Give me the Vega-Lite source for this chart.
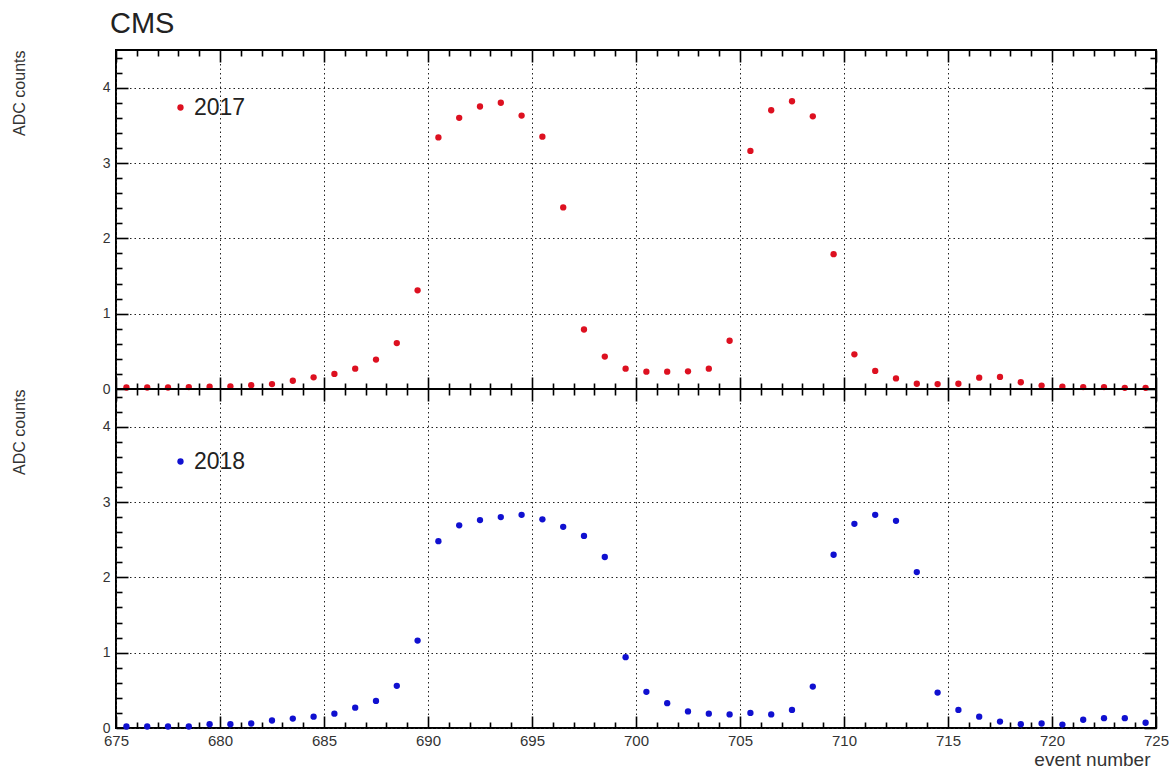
{
  "$schema": "https://vega.github.io/schema/vega-lite/v6.json",
  "background": "white",
  "padding": {"left": 10, "top": 9, "right": 5, "bottom": 5},
  "config": {
    "view": {"stroke": "black", "strokeWidth": 2},
    "font": "Liberation Sans",
    "axis": {"domain": false, "tickColor": "black", "tickWidth": 1.6, "labelFont": "Liberation Sans", "titleFont": "Liberation Sans", "labelColor": "#333", "titleColor": "#333", "titleFontWeight": "normal", "gridColor": "#222", "gridDash": [1.5, 3], "gridWidth": 1}
  },
  "datasets": {
    "adc": [
      {"year": "2017", "event": 675.5, "adc": 0.02}, {"year": "2017", "event": 676.5, "adc": 0.02}, {"year": "2017", "event": 677.5, "adc": 0.02}, {"year": "2017", "event": 678.5, "adc": 0.025}, {"year": "2017", "event": 679.5, "adc": 0.03},
      {"year": "2017", "event": 680.5, "adc": 0.035}, {"year": "2017", "event": 681.5, "adc": 0.05}, {"year": "2017", "event": 682.5, "adc": 0.065}, {"year": "2017", "event": 683.5, "adc": 0.11}, {"year": "2017", "event": 684.5, "adc": 0.155},
      {"year": "2017", "event": 685.5, "adc": 0.2}, {"year": "2017", "event": 686.5, "adc": 0.27}, {"year": "2017", "event": 687.5, "adc": 0.39}, {"year": "2017", "event": 688.5, "adc": 0.61}, {"year": "2017", "event": 689.5, "adc": 1.31},
      {"year": "2017", "event": 690.5, "adc": 3.34}, {"year": "2017", "event": 691.5, "adc": 3.6}, {"year": "2017", "event": 692.5, "adc": 3.75}, {"year": "2017", "event": 693.5, "adc": 3.8}, {"year": "2017", "event": 694.5, "adc": 3.63},
      {"year": "2017", "event": 695.5, "adc": 3.35}, {"year": "2017", "event": 696.5, "adc": 2.41}, {"year": "2017", "event": 697.5, "adc": 0.79}, {"year": "2017", "event": 698.5, "adc": 0.43}, {"year": "2017", "event": 699.5, "adc": 0.27},
      {"year": "2017", "event": 700.5, "adc": 0.23}, {"year": "2017", "event": 701.5, "adc": 0.23}, {"year": "2017", "event": 702.5, "adc": 0.235}, {"year": "2017", "event": 703.5, "adc": 0.27}, {"year": "2017", "event": 704.5, "adc": 0.64},
      {"year": "2017", "event": 705.5, "adc": 3.16}, {"year": "2017", "event": 706.5, "adc": 3.7}, {"year": "2017", "event": 707.5, "adc": 3.82}, {"year": "2017", "event": 708.5, "adc": 3.62}, {"year": "2017", "event": 709.5, "adc": 1.79},
      {"year": "2017", "event": 710.5, "adc": 0.46}, {"year": "2017", "event": 711.5, "adc": 0.24}, {"year": "2017", "event": 712.5, "adc": 0.14}, {"year": "2017", "event": 713.5, "adc": 0.07}, {"year": "2017", "event": 714.5, "adc": 0.065},
      {"year": "2017", "event": 715.5, "adc": 0.07}, {"year": "2017", "event": 716.5, "adc": 0.15}, {"year": "2017", "event": 717.5, "adc": 0.16}, {"year": "2017", "event": 718.5, "adc": 0.09}, {"year": "2017", "event": 719.5, "adc": 0.045},
      {"year": "2017", "event": 720.5, "adc": 0.03}, {"year": "2017", "event": 721.5, "adc": 0.025}, {"year": "2017", "event": 722.5, "adc": 0.025}, {"year": "2017", "event": 723.5, "adc": 0.015}, {"year": "2017", "event": 724.5, "adc": 0.015},
      {"year": "2018", "event": 675.5, "adc": 0.02}, {"year": "2018", "event": 676.5, "adc": 0.02}, {"year": "2018", "event": 677.5, "adc": 0.02}, {"year": "2018", "event": 678.5, "adc": 0.02}, {"year": "2018", "event": 679.5, "adc": 0.05},
      {"year": "2018", "event": 680.5, "adc": 0.05}, {"year": "2018", "event": 681.5, "adc": 0.06}, {"year": "2018", "event": 682.5, "adc": 0.1}, {"year": "2018", "event": 683.5, "adc": 0.125}, {"year": "2018", "event": 684.5, "adc": 0.15},
      {"year": "2018", "event": 685.5, "adc": 0.19}, {"year": "2018", "event": 686.5, "adc": 0.27}, {"year": "2018", "event": 687.5, "adc": 0.36}, {"year": "2018", "event": 688.5, "adc": 0.56}, {"year": "2018", "event": 689.5, "adc": 1.16},
      {"year": "2018", "event": 690.5, "adc": 2.48}, {"year": "2018", "event": 691.5, "adc": 2.69}, {"year": "2018", "event": 692.5, "adc": 2.76}, {"year": "2018", "event": 693.5, "adc": 2.8}, {"year": "2018", "event": 694.5, "adc": 2.83},
      {"year": "2018", "event": 695.5, "adc": 2.77}, {"year": "2018", "event": 696.5, "adc": 2.67}, {"year": "2018", "event": 697.5, "adc": 2.55}, {"year": "2018", "event": 698.5, "adc": 2.27}, {"year": "2018", "event": 699.5, "adc": 0.94},
      {"year": "2018", "event": 700.5, "adc": 0.48}, {"year": "2018", "event": 701.5, "adc": 0.33}, {"year": "2018", "event": 702.5, "adc": 0.22}, {"year": "2018", "event": 703.5, "adc": 0.19}, {"year": "2018", "event": 704.5, "adc": 0.18},
      {"year": "2018", "event": 705.5, "adc": 0.2}, {"year": "2018", "event": 706.5, "adc": 0.18}, {"year": "2018", "event": 707.5, "adc": 0.24}, {"year": "2018", "event": 708.5, "adc": 0.55}, {"year": "2018", "event": 709.5, "adc": 2.3},
      {"year": "2018", "event": 710.5, "adc": 2.71}, {"year": "2018", "event": 711.5, "adc": 2.83}, {"year": "2018", "event": 712.5, "adc": 2.75}, {"year": "2018", "event": 713.5, "adc": 2.07}, {"year": "2018", "event": 714.5, "adc": 0.47},
      {"year": "2018", "event": 715.5, "adc": 0.24}, {"year": "2018", "event": 716.5, "adc": 0.15}, {"year": "2018", "event": 717.5, "adc": 0.085}, {"year": "2018", "event": 718.5, "adc": 0.05}, {"year": "2018", "event": 719.5, "adc": 0.06},
      {"year": "2018", "event": 720.5, "adc": 0.045}, {"year": "2018", "event": 721.5, "adc": 0.11}, {"year": "2018", "event": 722.5, "adc": 0.13}, {"year": "2018", "event": 723.5, "adc": 0.13}, {"year": "2018", "event": 724.5, "adc": 0.07}
    ]
  },
  "data": {"name": "adc"},
  "spacing": 0,
  "bounds": "flush",
  "resolve": {"scale": {"color": "independent"}},
  "vconcat": [
    {
      "width": 1040,
      "height": 339,
      "title": {"text": "CMS", "anchor": "start", "frame": "group", "fontSize": 29, "fontWeight": "normal", "font": "Liberation Sans", "color": "#222", "dx": -6, "offset": 10},
      "transform": [{"filter": "datum.year == '2017'"}],
      "layer": [
        {
          "mark": {"type": "point", "filled": true, "size": 40, "opacity": 1},
          "encoding": {
            "x": {"field": "event", "type": "quantitative", "scale": {"domain": [675, 725], "nice": false, "zero": false},
              "axis": {"orient": "bottom", "values": [675, 680, 685, 690, 695, 700, 705, 710, 715, 720, 725], "labels": false, "title": null, "grid": true, "tickSize": -12}},
            "y": {"field": "adc", "type": "quantitative", "scale": {"domain": [0, 4.5], "nice": false},
              "axis": {"orient": "left", "values": [0, 1, 2, 3, 4], "format": "d", "labelFontSize": 14, "labelPadding": 18, "labelOverlap": false, "labelFlush": false, "grid": true, "tickSize": -12,
                "title": "ADC counts", "titleAnchor": "end", "titleFontSize": 16, "titlePadding": 75}},
            "color": {"field": "year", "type": "nominal", "scale": {"domain": ["2017"], "range": ["#dd1020"]},
              "legend": {"orient": "none", "legendX": 53, "legendY": 46, "title": null, "labelFontSize": 23, "labelColor": "#222", "labelFont": "Liberation Sans", "symbolSize": 40, "symbolType": "circle", "padding": 0, "labelOffset": 2}}
          }
        },
        {
          "mark": {"type": "point", "filled": true, "size": 40, "opacity": 0},
          "encoding": {
            "x": {"field": "event", "type": "quantitative", "axis": {"orient": "top", "values": [675, 680, 685, 690, 695, 700, 705, 710, 715, 720, 725], "labels": false, "title": null, "grid": false, "tickSize": -12}},
            "y": {"field": "adc", "type": "quantitative", "axis": {"orient": "right", "values": [0, 1, 2, 3, 4], "labels": false, "title": null, "grid": false, "tickSize": -12}}
          }
        },
        {
          "mark": {"type": "point", "filled": true, "size": 40, "opacity": 0},
          "encoding": {
            "x": {"field": "event", "type": "quantitative", "axis": {"orient": "bottom", "values": [676,677,678,679,681,682,683,684,686,687,688,689,691,692,693,694,696,697,698,699,701,702,703,704,706,707,708,709,711,712,713,714,716,717,718,719,721,722,723,724], "labels": false, "title": null, "grid": false, "tickSize": -6}},
            "y": {"field": "adc", "type": "quantitative", "axis": {"orient": "left", "values": [0.2,0.4,0.6,0.8,1.2,1.4,1.6,1.8,2.2,2.4,2.6,2.8,3.2,3.4,3.6,3.8,4.2,4.4], "labels": false, "title": null, "grid": false, "tickSize": -6}}
          }
        },
        {
          "mark": {"type": "point", "filled": true, "size": 40, "opacity": 0},
          "encoding": {
            "x": {"field": "event", "type": "quantitative", "axis": {"orient": "top", "values": [676,677,678,679,681,682,683,684,686,687,688,689,691,692,693,694,696,697,698,699,701,702,703,704,706,707,708,709,711,712,713,714,716,717,718,719,721,722,723,724], "labels": false, "title": null, "grid": false, "tickSize": -6}},
            "y": {"field": "adc", "type": "quantitative", "axis": {"orient": "right", "values": [0.2,0.4,0.6,0.8,1.2,1.4,1.6,1.8,2.2,2.4,2.6,2.8,3.2,3.4,3.6,3.8,4.2,4.4], "labels": false, "title": null, "grid": false, "tickSize": -6}}
          }
        }
      ],
      "resolve": {"axis": {"x": "independent", "y": "independent"}}
    },
    {
      "width": 1040,
      "height": 339,
      "transform": [{"filter": "datum.year == '2018'"}],
      "layer": [
        {
          "mark": {"type": "point", "filled": true, "size": 40, "opacity": 1},
          "encoding": {
            "x": {"field": "event", "type": "quantitative", "scale": {"domain": [675, 725], "nice": false, "zero": false},
              "axis": {"orient": "bottom", "values": [675, 680, 685, 690, 695, 700, 705, 710, 715, 720, 725], "format": "d", "labelFontSize": 15, "labelPadding": 17, "labelOverlap": false, "labelFlush": false, "labelBound": false, "grid": true, "tickSize": -12,
                "title": "event number", "titleAnchor": "end", "titleAlign": "right", "titleX": 1034, "titleFontSize": 19, "titlePadding": 2}},
            "y": {"field": "adc", "type": "quantitative", "scale": {"domain": [0, 4.5], "nice": false},
              "axis": {"orient": "left", "values": [0, 1, 2, 3, 4], "format": "d", "labelFontSize": 14, "labelPadding": 18, "labelOverlap": false, "labelFlush": false, "grid": true, "tickSize": -12,
                "title": "ADC counts", "titleAnchor": "end", "titleFontSize": 16, "titlePadding": 75}},
            "color": {"field": "year", "type": "nominal", "scale": {"domain": ["2018"], "range": ["#1010d0"]},
              "legend": {"orient": "none", "legendX": 53, "legendY": 61, "title": null, "labelFontSize": 23, "labelColor": "#222", "labelFont": "Liberation Sans", "symbolSize": 40, "symbolType": "circle", "padding": 0, "labelOffset": 2}}
          }
        },
        {
          "mark": {"type": "point", "filled": true, "size": 40, "opacity": 0},
          "encoding": {
            "x": {"field": "event", "type": "quantitative", "axis": {"orient": "top", "values": [675, 680, 685, 690, 695, 700, 705, 710, 715, 720, 725], "labels": false, "title": null, "grid": false, "tickSize": -12}},
            "y": {"field": "adc", "type": "quantitative", "axis": {"orient": "right", "values": [0, 1, 2, 3, 4], "labels": false, "title": null, "grid": false, "tickSize": -12}}
          }
        },
        {
          "mark": {"type": "point", "filled": true, "size": 40, "opacity": 0},
          "encoding": {
            "x": {"field": "event", "type": "quantitative", "axis": {"orient": "bottom", "values": [676,677,678,679,681,682,683,684,686,687,688,689,691,692,693,694,696,697,698,699,701,702,703,704,706,707,708,709,711,712,713,714,716,717,718,719,721,722,723,724], "labels": false, "title": null, "grid": false, "tickSize": -6}},
            "y": {"field": "adc", "type": "quantitative", "axis": {"orient": "left", "values": [0.2,0.4,0.6,0.8,1.2,1.4,1.6,1.8,2.2,2.4,2.6,2.8,3.2,3.4,3.6,3.8,4.2,4.4], "labels": false, "title": null, "grid": false, "tickSize": -6}}
          }
        },
        {
          "mark": {"type": "point", "filled": true, "size": 40, "opacity": 0},
          "encoding": {
            "x": {"field": "event", "type": "quantitative", "axis": {"orient": "top", "values": [676,677,678,679,681,682,683,684,686,687,688,689,691,692,693,694,696,697,698,699,701,702,703,704,706,707,708,709,711,712,713,714,716,717,718,719,721,722,723,724], "labels": false, "title": null, "grid": false, "tickSize": -6}},
            "y": {"field": "adc", "type": "quantitative", "axis": {"orient": "right", "values": [0.2,0.4,0.6,0.8,1.2,1.4,1.6,1.8,2.2,2.4,2.6,2.8,3.2,3.4,3.6,3.8,4.2,4.4], "labels": false, "title": null, "grid": false, "tickSize": -6}}
          }
        }
      ],
      "resolve": {"axis": {"x": "independent", "y": "independent"}}
    }
  ]
}
